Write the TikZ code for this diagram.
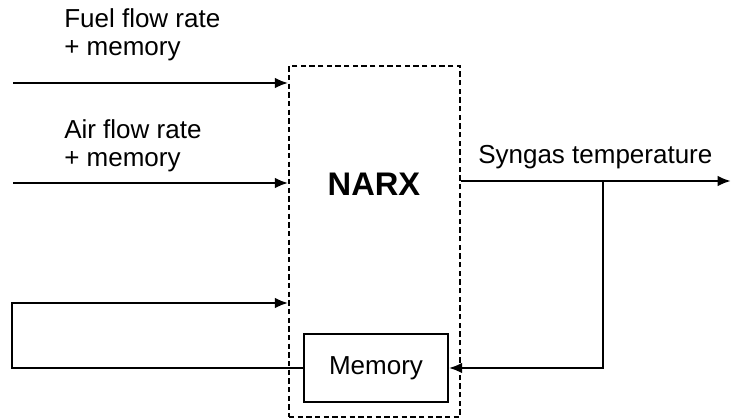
\documentclass[tikz,border=0pt]{standalone}
\usepackage{fontspec}
\setmainfont{Liberation Sans}
\usetikzlibrary{positioning,arrows.meta}

\begin{document}
\begin{tikzpicture}[x=0.75pt, y=-0.75pt, >={Latex[length=10pt,width=8pt]},
    lbl/.style={font=\fontsize{19.5}{20.5}\selectfont, inner sep=0pt, align=left},
    block/.style={rectangle, draw, line width=1.1pt, minimum width=108pt, minimum height=51pt, font=\fontsize{19.5}{21}\selectfont},
    wire/.style={line width=1.9pt}]
     \useasboundingbox (0,0) rectangle (732,419);
	 \node[draw, dash pattern=on 4pt off 2.5pt, line width=1.1pt, minimum width=128.25pt, minimum height=263.25pt, inner sep=0pt] (narxbox) at (374.5,241.5) {};
	 \node[font=\bfseries\fontsize{24.5}{26}\selectfont] (narx) at (374,184) {NARX};
	 \node[block] (mem) at (376,368) {Memory};

	 \coordinate (fuel) at (13,83);
	 \coordinate (air) at (13,183);
	 \coordinate (fb) at (12,303);
	 \coordinate (out) at (731,181);
	 \coordinate (tap) at (603,181);

	 \draw[wire,->] (fuel) -- (fuel -| narxbox.west);
	 \draw[wire,->] (air) -- (air -| narxbox.west);
	 \draw[wire,->] (narxbox.east |- out) -- (out);
	 \draw[wire,->] (tap) |- (mem.east);
	 \draw[wire,->] (mem.west) -| (fb) -- (fb -| narxbox.west);

	 \node[lbl, anchor=base west] (fuellbl) at (64,55) {Fuel flow rate\\+ memory};
	 \node[lbl, anchor=base west] (airlbl) at (64,166) {Air flow rate\\+ memory};
	 \node[lbl, anchor=base west] (outlbl) at (478,163) {Syngas temperature};
\end{tikzpicture}
\end{document}
